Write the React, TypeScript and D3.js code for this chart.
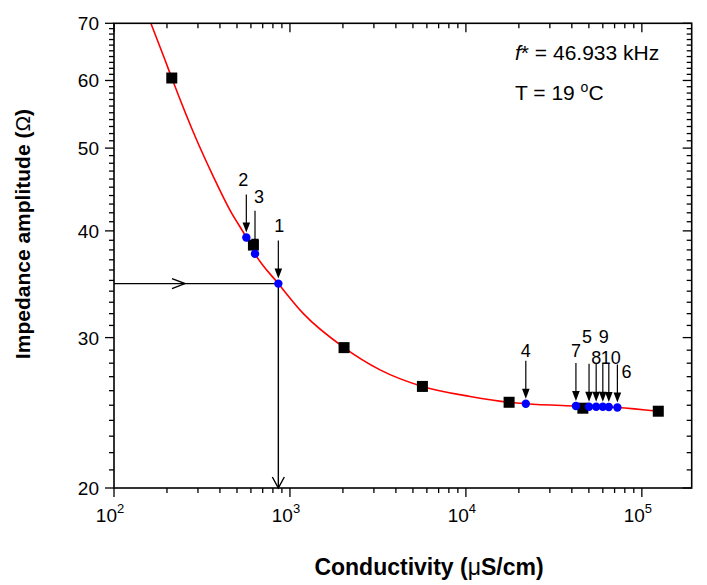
import React from 'react'
import * as d3 from 'd3'

// fitted impedance curve
const fitSigma = [162, 195, 213, 295, 367, 456, 565, 633, 859, 1192, 2030, 3251, 5660, 10570, 17600, 21900, 42200, 72600, 124000]
const fitZ = [70, 63.4, 60.4, 51.1, 46.3, 42.3, 39.3, 37.6, 34.7, 32.0, 29.2, 27.5, 26.3, 25.6, 25.2, 25.1, 24.95, 24.85, 24.6]

// calibration solutions (black squares)
const calSigma = [213, 620, 2030, 5660, 17600, 46200, 124000]
const calZ = [60.4, 38.5, 29.2, 26.3, 25.2, 24.8, 24.6]

// measured samples (blue dots)
const sampleLabels = ['1', '2', '3', '4', '5', '6', '7', '8', '9', '10']
const sampleSigma = [859, 565, 633, 21900, 50100, 72600, 42200, 55000, 60000, 64900]
const sampleZ = [34.7, 39.3, 37.6, 25.1, 24.9, 24.85, 24.95, 24.9, 24.9, 24.88]

const xTicks = [1e2, 1e3, 1e4, 1e5]
const xTickExp = ['2', '3', '4', '5']
const yTicks = [20, 30, 40, 50, 60, 70]

// label placement relative to each sample dot: [dx, baseline dy]
const labelShift: Record<string, [number, number]> = {
	'1': [1, -52],
	'2': [-3, -51],
	'3': [4, -51],
	'4': [0, -47],
	'5': [-2, -64],
	'6': [9, -29],
	'7': [0, -49],
	'8': [0, -43],
	'9': [1, -64],
	'10': [2, -43],
}

const font = '"Liberation Sans", Arial, sans-serif'

const App = () => {
	const left = 114,
		right = 691.7,
		top = 23.3,
		bottom = 488

	const x = d3.scaleLog().domain([100, 1.92e5]).range([left, right])
	const y = d3.scaleLog().domain([20, 70]).range([bottom, top])

	const fitData = fitSigma.map((s, i) => [s, fitZ[i]] as [number, number])
	const line = d3
		.line<[number, number]>()
		.x((d) => x(d[0]))
		.y((d) => y(d[1]))
		.curve(d3.curveMonotoneX)

	const xMinor: number[] = []
	for (let e = 2; e <= 5; e++) {
		for (let k = 2; k <= 9; k++) {
			const v = k * Math.pow(10, e)
			if (v < 1.92e5) xMinor.push(v)
		}
	}
	const yMinor = d3.range(21, 70).filter((v) => v % 10 !== 0)

	const sq = 11
	const px = x(sampleSigma[0])
	const py = y(sampleZ[0])

	return (
		<svg width={707} height={585} style={{ position: 'absolute', left: 0, top: 0, background: '#fff' }} fontFamily={font}>
			{/* fit line */}
			<path d={line(fitData) || ''} fill="none" stroke="#f00" strokeWidth={1.6} />

			{/* read-off guide for sample 1 */}
			<g stroke="#000" strokeWidth={1.4} fill="none">
				<line x1={left} y1={py} x2={px} y2={py} />
				<line x1={px} y1={py} x2={px} y2={bottom} />
				<polyline points={`${172},${py - 5} ${185},${py} ${172},${py + 5}`} />
				<polyline points={`${px - 6},${bottom - 11} ${px},${bottom} ${px + 6},${bottom - 11}`} />
			</g>

			{calSigma.map((s, i) => (
				<rect key={'c' + i} x={x(s) - sq / 2} y={y(calZ[i]) - sq / 2} width={sq} height={sq} fill="#000" />
			))}

			{sampleSigma.map((s, i) => (
				<circle key={'s' + i} cx={x(s)} cy={y(sampleZ[i])} r={4.2} fill="#0000ff" />
			))}

			{/* arrows and labels */}
			{sampleSigma.map((s, i) => {
				const cx = x(s)
				const cy = y(sampleZ[i])
				const tip = cy - 5
				const [dx, dy] = labelShift[sampleLabels[i]]
				return (
					<g key={'a' + i}>
						<line x1={cx} y1={cy - 43} x2={cx} y2={tip - 6} stroke="#000" strokeWidth={1.2} />
						<polygon points={`${cx - 3.8},${tip - 10} ${cx + 3.8},${tip - 10} ${cx},${tip}`} fill="#000" />
						<text x={cx + dx} y={cy + dy} fontSize={18} textAnchor="middle" fill="#000">
							{sampleLabels[i]}
						</text>
					</g>
				)
			})}

			{/* frame */}
			<rect x={left} y={top} width={right - left} height={bottom - top} fill="none" stroke="#000" strokeWidth={1.6} />

			{/* ticks on all four sides */}
			<g stroke="#000" strokeWidth={1.3}>
				{xTicks.map((v) => (
					<g key={'xt' + v}>
						<line x1={x(v)} x2={x(v)} y1={bottom} y2={bottom + 9} />
						<line x1={x(v)} x2={x(v)} y1={top} y2={top + 9} />
					</g>
				))}
				{xMinor.map((v) => (
					<g key={'xm' + v}>
						<line x1={x(v)} x2={x(v)} y1={bottom} y2={bottom + 5} />
						<line x1={x(v)} x2={x(v)} y1={top} y2={top + 5} />
					</g>
				))}
				{yTicks.map((v) => (
					<g key={'yt' + v}>
						<line x1={left - 9} x2={left} y1={y(v)} y2={y(v)} />
						<line x1={right - 9} x2={right} y1={y(v)} y2={y(v)} />
					</g>
				))}
				{yMinor.map((v) => (
					<g key={'ym' + v}>
						<line x1={left - 5} x2={left} y1={y(v)} y2={y(v)} />
						<line x1={right - 5} x2={right} y1={y(v)} y2={y(v)} />
					</g>
				))}
			</g>

			{/* tick labels */}
			{xTicks.map((v, i) => (
				<text key={'xl' + v} x={x(v) - 4} y={522} fontSize={19} textAnchor="middle" fill="#000">
					10
					<tspan fontSize={13} dy={-9}>
						{xTickExp[i]}
					</tspan>
				</text>
			))}
			{yTicks.map((v) => (
				<text key={'yl' + v} x={99} y={y(v) + 7} fontSize={19} textAnchor="end" fill="#000">
					{v}
				</text>
			))}

			{/* conditions */}
			<text x={515} y={60} fontSize={21} fill="#000">
				<tspan fontStyle="italic">f</tspan>* = 46.933 kHz
			</text>
			<text x={515} y={100} fontSize={21} fill="#000">
				T = 19 <tspan fontSize={14} dy={-8}>o</tspan>
				<tspan dy={8}>C</tspan>
			</text>

			{/* axis titles */}
			<text x={429} y={575} fontSize={23} fontWeight="bold" textAnchor="middle" fill="#000">
				Conductivity (<tspan fontWeight="normal">μ</tspan>S/cm)
			</text>
			<text
				transform="translate(30,234) rotate(-90)"
				fontSize={21}
				fontWeight="bold"
				textAnchor="middle"
				fill="#000"
			>
				Impedance amplitude (<tspan fontWeight="normal">Ω</tspan>)
			</text>
		</svg>
	)
}

export default App
